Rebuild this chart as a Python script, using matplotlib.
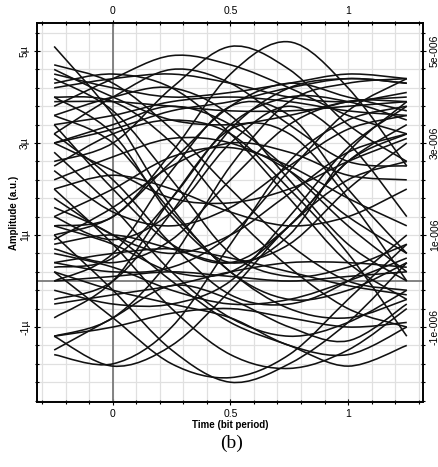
import numpy as np
import matplotlib
matplotlib.use("Agg")
import matplotlib.pyplot as plt
from matplotlib.path import Path
from matplotlib.patches import PathPatch
from matplotlib.ticker import MultipleLocator, FixedLocator

plt.rcParams['font.family'] = ['Liberation Sans', 'DejaVu Sans']

# sample instants of every trace (bit period)
t_samples = [-0.25, 0.0, 0.25, 0.5, 0.75, 1.0, 1.25]

# amplitudes, in micro-units
high_steady = [
    [4.5, 4.2, 4.0, 4.1, 4.3, 4.5, 4.4],
    [3.9, 3.9, 3.8, 3.7, 3.7, 3.8, 3.9],
    [3.4, 3.6, 3.9, 4.0, 3.9, 3.7, 3.6],
    [4.2, 4.4, 4.5, 4.3, 4.0, 3.9, 4.1],
    [3.0, 3.3, 3.7, 3.9, 4.2, 4.4, 4.3],
    [4.6, 4.0, 3.5, 3.4, 3.6, 3.9, 4.0],
]
high_peaks = [
    [2.6, 3.0, 4.2, 5.1, 4.6, 3.4, 2.6],
    [1.2, 1.4, 2.8, 4.5, 5.2, 4.2, 2.5],
    [3.2, 4.0, 4.6, 4.3, 3.4, 2.6, 2.5],
    [3.8, 4.4, 4.9, 4.7, 4.2, 3.6, 3.2],
]
falling = [
    [5.1, 3.6, 1.6, 0.2, -0.4, -0.2, 0.4],
    [4.4, 3.7, 2.2, 0.6, 0.1, 0.3, 0.8],
    [3.6, 3.0, 1.5, 0.2, -0.6, -0.8, -0.4],
    [4.0, 3.9, 3.0, 1.5, 0.3, -0.6, -1.0],
    [3.2, 2.2, 0.8, -0.3, -0.5, 0.0, 1.0],
    [4.7, 4.3, 3.3, 2.0, 0.8, 0.0, -0.2],
    [2.8, 1.6, 0.2, -0.8, -1.2, -0.9, -0.2],
]
rising = [
    [-0.4, 0.0, 1.5, 3.3, 4.2, 4.4, 4.3],
    [0.3, 0.5, 1.8, 3.4, 4.0, 3.9, 3.5],
    [-1.2, -0.8, 0.5, 2.5, 3.9, 4.3, 4.4],
    [1.0, 1.4, 2.6, 3.8, 4.3, 4.0, 3.7],
    [0.7, 0.4, 0.9, 2.2, 3.4, 3.9, 3.9],
    [-1.6, -1.8, -1.0, 0.8, 2.6, 3.5, 3.8],
]
low_steady = [
    [0.0, 0.1, 0.2, 0.1, 0.0, 0.1, 0.2],
    [-0.5, -0.3, -0.1, 0.2, 0.4, 0.4, 0.3],
    [0.6, 0.3, -0.2, -0.5, -0.4, 0.0, 0.5],
    [-1.2, -1.0, -0.7, -0.6, -0.8, -1.0, -0.9],
    [0.4, 0.6, 0.7, 0.5, 0.2, -0.1, -0.3],
]
low_troughs = [
    [-1.2, -1.85, -1.4, -0.2, 1.2, 2.2, 2.6],
    [0.2, -0.8, -1.8, -2.1, -1.6, -0.4, 0.8],
    [1.0, -0.2, -1.5, -2.2, -1.8, -0.9, 0.4],
    [2.0, 0.8, -0.6, -1.6, -1.9, -1.5, -0.6],
    [1.6, 1.0, 0.0, -0.9, -1.4, -1.85, -1.4],
    [0.2, -0.2, -0.5, -0.8, -1.4, -1.6, -1.0],
    [-1.5, -0.8, -0.1, -0.4, -1.0, -1.3, -0.5],
]
middle = [
    [2.0, 2.3, 2.0, 1.5, 1.2, 1.4, 2.0],
    [1.4, 2.0, 2.7, 2.9, 2.5, 1.8, 1.2],
    [2.4, 1.5, 1.2, 1.6, 2.5, 3.3, 3.6],
    [0.9, 1.6, 2.5, 3.0, 2.8, 2.3, 2.2],
    [3.0, 2.4, 1.8, 1.7, 2.0, 2.6, 3.1],
    [1.8, 1.0, 0.6, 1.0, 1.9, 2.8, 3.2],
    [2.2, 2.7, 3.1, 3.0, 2.4, 1.4, 0.6],
]
late_fall = [
    [3.6, 4.0, 4.2, 3.6, 2.2, 0.8, 0.0],
    [4.3, 4.5, 4.2, 3.2, 1.8, 0.4, -0.4],
    [3.0, 3.4, 3.8, 3.4, 2.4, 1.2, 0.2],
    [2.5, 3.2, 3.5, 3.2, 2.0, 0.6, -1.2],
]
late_rise = [
    [0.4, 0.2, 0.3, 1.0, 2.4, 3.7, 4.4],
    [1.2, 0.8, 0.2, 0.2, 1.2, 2.6, 3.4],
    [-0.2, -0.5, -0.5, 0.0, 1.4, 2.9, 3.8],
    [0.8, 1.0, 0.7, 0.4, 0.8, 2.0, 3.0],
]
one_zero_one = [
    [4.0, 3.2, 1.4, 0.4, 1.0, 2.8, 3.9],
    [3.4, 2.0, 0.8, 0.4, 1.2, 2.6, 3.2],
]
zero_one_zero = [
    [0.0, 0.6, 2.4, 3.8, 3.6, 2.0, 0.6],
    [-0.8, 0.0, 1.8, 3.3, 3.2, 1.8, 0.0],
    [1.4, 0.9, 1.5, 3.0, 3.8, 3.0, 1.4],
]

traces = (high_steady + high_peaks + falling + rising + low_steady + low_troughs
          + middle + late_fall + late_rise + one_zero_one + zero_one_zero)

y_major = [-1, 1, 3, 5]
y_left_labels = ['-1µ', '1µ', '3µ', '5µ']
y_right_labels = ['-1e-006', '1e-006', '3e-006', '5e-006']
x_major = [0, 0.5, 1]
x_labels = ['0', '0.5', '1']


def smooth_path(xs, ys):
    # Catmull-Rom through the samples, drawn as cubic Bezier segments
    pts = np.column_stack([xs, ys])
    ext = np.vstack([pts[0], pts, pts[-1]])
    verts = [pts[0]]
    codes = [Path.MOVETO]
    for i in range(1, len(ext) - 2):
        p0, p1, p2, p3 = ext[i - 1], ext[i], ext[i + 1], ext[i + 2]
        verts += [p1 + (p2 - p0) / 6, p2 - (p3 - p1) / 6, p2]
        codes += [Path.CURVE4] * 3
    return Path(verts, codes)


fig = plt.figure(figsize=(4.39, 4.67), dpi=100)
ax = fig.add_axes([37 / 439, 65 / 467, 386 / 439, 379 / 467])
ax.set_xlim(-0.323, 1.319)
ax.set_ylim(-2.63, 5.61)

# light grid
ax.xaxis.set_minor_locator(MultipleLocator(0.1))
ax.yaxis.set_minor_locator(FixedLocator(np.arange(-2.6, 5.5, 0.4)))
ax.grid(True, which='both', color='#e0e0e0', lw=0.9)
ax.axvline(0, color='#7a7a7a', lw=1.3, zorder=1)
ax.axhline(0, color='#7a7a7a', lw=1.3, zorder=1)
ax.set_axisbelow(True)

for tr in traces:
    ax.add_patch(PathPatch(smooth_path(t_samples, tr), fill=False,
                           edgecolor='#111111', lw=1.15, zorder=3))

ax.set_xticks(x_major)
ax.set_xticklabels(x_labels)
ax.set_yticks(y_major)
ax.set_yticklabels(y_left_labels, rotation=90, va='center')
ax.tick_params(which='both', direction='inout', top=True, labeltop=True,
               labelsize=7.5, length=4, width=0.8, pad=3)
ax.tick_params(which='minor', length=3)

ax2 = ax.twinx()
ax2.set_ylim(ax.get_ylim())
ax2.set_yticks(y_major)
ax2.set_yticklabels(y_right_labels, rotation=90, va='center')
ax2.yaxis.set_minor_locator(FixedLocator(np.arange(-2.6, 5.5, 0.4)))
ax2.tick_params(which='both', direction='inout', labelsize=7.5, length=4, width=0.8, pad=3)
ax2.tick_params(which='minor', length=3)

for a in (ax, ax2):
    for s in a.spines.values():
        s.set_linewidth(1.2)

ax.set_xlabel('Time (bit period)', fontsize=7, fontweight='bold', labelpad=1)
ax.set_ylabel('Amplitude (a.u.)', fontsize=7, fontweight='bold', labelpad=1)

fig.text(232 / 439, 1 - 443 / 467, '(b)', ha='center', va='center',
         fontsize=14, family=['Liberation Serif', 'DejaVu Serif'])

fig.savefig('out.png', dpi=100)
